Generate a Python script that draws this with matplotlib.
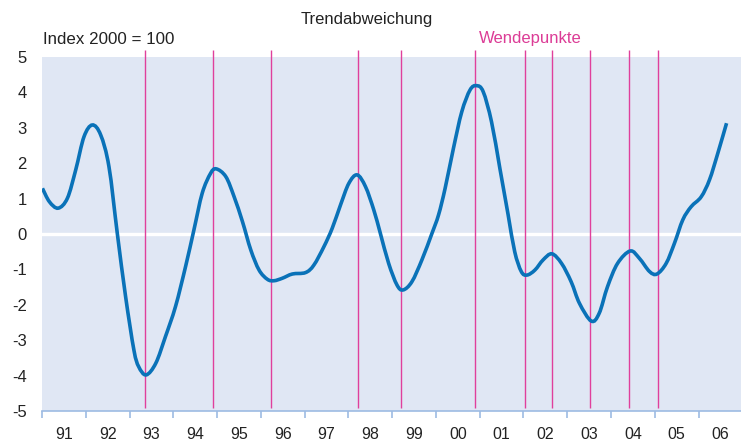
import matplotlib
matplotlib.use("Agg")
import matplotlib.pyplot as plt
from matplotlib.path import Path
from matplotlib.patches import PathPatch
import numpy as np

plt.rcParams['font.family'] = ['Liberation Sans', 'DejaVu Sans']
plt.rcParams['axes.unicode_minus'] = False

# Trendabweichung (x = Jahr, y = Abweichung)
jahr = [1991.01, 1991.17, 1991.37, 1991.58, 1991.77, 1991.96, 1992.15, 1992.34, 1992.53,
        1992.72, 1992.91, 1993.10, 1993.21, 1993.38, 1993.60, 1993.82, 1994.05, 1994.28,
        1994.47, 1994.66, 1994.85, 1994.98, 1995.20, 1995.39, 1995.58, 1995.77,
        1995.96, 1996.15, 1996.30, 1996.49, 1996.72, 1997.02, 1997.21, 1997.44, 1997.63,
        1997.82, 1998.01, 1998.20, 1998.39, 1998.58, 1998.73, 1998.92, 1999.11, 1999.25,
        1999.45, 1999.68, 1999.91, 2000.06, 2000.21, 2000.40, 2000.59, 2000.78, 2000.93,
        2001.08, 2001.27, 2001.46, 2001.65, 2001.80, 2001.95, 2002.08, 2002.26, 2002.45,
        2002.65, 2002.87, 2003.09, 2003.28, 2003.55, 2003.73, 2003.92, 2004.15, 2004.44,
        2004.65, 2004.88, 2005.05, 2005.26, 2005.45, 2005.64, 2005.83, 2006.06, 2006.25,
        2006.44, 2006.64]
abweichung = [1.29, 0.91, 0.73, 1.01, 1.81, 2.75, 3.08, 2.80, 1.90,
              0.02, -1.77, -3.28, -3.75, -3.98, -3.65, -2.90, -2.05, -0.92,
              0.11, 1.15, 1.71, 1.84, 1.62, 1.05, 0.35, -0.45,
              -1.02, -1.28, -1.32, -1.25, -1.13, -1.09, -0.88, -0.36, 0.16,
              0.82, 1.43, 1.67, 1.34, 0.68, 0.02, -0.83, -1.44, -1.58,
              -1.35, -0.73, 0.02, 0.54, 1.29, 2.42, 3.45, 4.07, 4.19,
              4.02, 3.17, 1.86, 0.54, -0.50, -1.06, -1.16, -1.02, -0.73,
              -0.56, -0.83, -1.35, -1.96, -2.46, -2.24, -1.49, -0.83, -0.48,
              -0.69, -1.06, -1.13, -0.83, -0.26, 0.40, 0.77, 1.05, 1.53,
              2.28, 3.13]

# Wendepunkte
wendepunkte = [1993.35, 1994.91, 1996.24, 1998.21, 1999.20, 2000.90,
               2002.04, 2002.65, 2003.52, 2004.42, 2005.08]

jahre = list(range(1991, 2007))
jahr_labels = ['91', '92', '93', '94', '95', '96', '97', '98', '99',
               '00', '01', '02', '03', '04', '05', '06']


def glatte_linie(xs, ys):
    # Catmull-Rom durch die Punkte, als Bezier-Pfad
    p = np.column_stack([xs, ys])
    verts = [p[0]]
    codes = [Path.MOVETO]
    for i in range(len(p) - 1):
        p0 = p[i - 1] if i > 0 else p[i]
        p3 = p[i + 2] if i + 2 < len(p) else p[i + 1]
        c1 = p[i] + (p[i + 1] - p0) / 6
        c2 = p[i + 1] - (p3 - p[i]) / 6
        verts += [c1, c2, p[i + 1]]
        codes += [Path.CURVE4] * 3
    return Path(verts, codes)


fig = plt.figure(figsize=(7.41, 4.41), dpi=100)
ax = fig.add_axes([42 / 741, 30 / 441, 699 / 741, 354 / 441])
ax.set_facecolor('#e0e7f4')

ax.axhline(0, color='white', linewidth=2.4, zorder=1)
ax.vlines(wendepunkte, -4.92, 5.2, colors='#e0409c', linewidth=1.0, clip_on=False, zorder=2)
ax.add_patch(PathPatch(glatte_linie(jahr, abweichung), facecolor='none',
                       edgecolor='#0a72b8', linewidth=2.6, capstyle='butt', zorder=3))

ax.set_xlim(1991, 2006.97)
ax.set_ylim(-5, 5)
ax.set_yticks(np.arange(-5, 6, 1))
ax.tick_params(axis='y', length=0, pad=11, labelsize=12, labelcolor='#222222')

ax.set_xticks(jahre)
ax.set_xticklabels([])
ax.set_xticks([j + 0.5 for j in jahre], minor=True)
ax.set_xticklabels(jahr_labels, minor=True)
ax.tick_params(axis='x', which='major', length=5, color='#9dbbe3', width=1.2)
ax.tick_params(axis='x', which='minor', length=0, pad=11.5, labelsize=11.5, labelcolor='#222222')

for s in ['top', 'right', 'left']:
    ax.spines[s].set_visible(False)
ax.spines['bottom'].set_color('#9dbbe3')
ax.spines['bottom'].set_linewidth(1.2)

fig.text(367 / 741, 1 - 24 / 441, 'Trendabweichung', ha='center', va='baseline', fontsize=12, color='#222222')
fig.text(43 / 741, 1 - 44 / 441, 'Index 2000 = 100', ha='left', va='baseline', fontsize=12.2, color='#222222')
fig.text(479 / 741, 1 - 43 / 441, 'Wendepunkte', ha='left', va='baseline', fontsize=12, color='#dc3c96')

fig.savefig('out.png', dpi=100)
